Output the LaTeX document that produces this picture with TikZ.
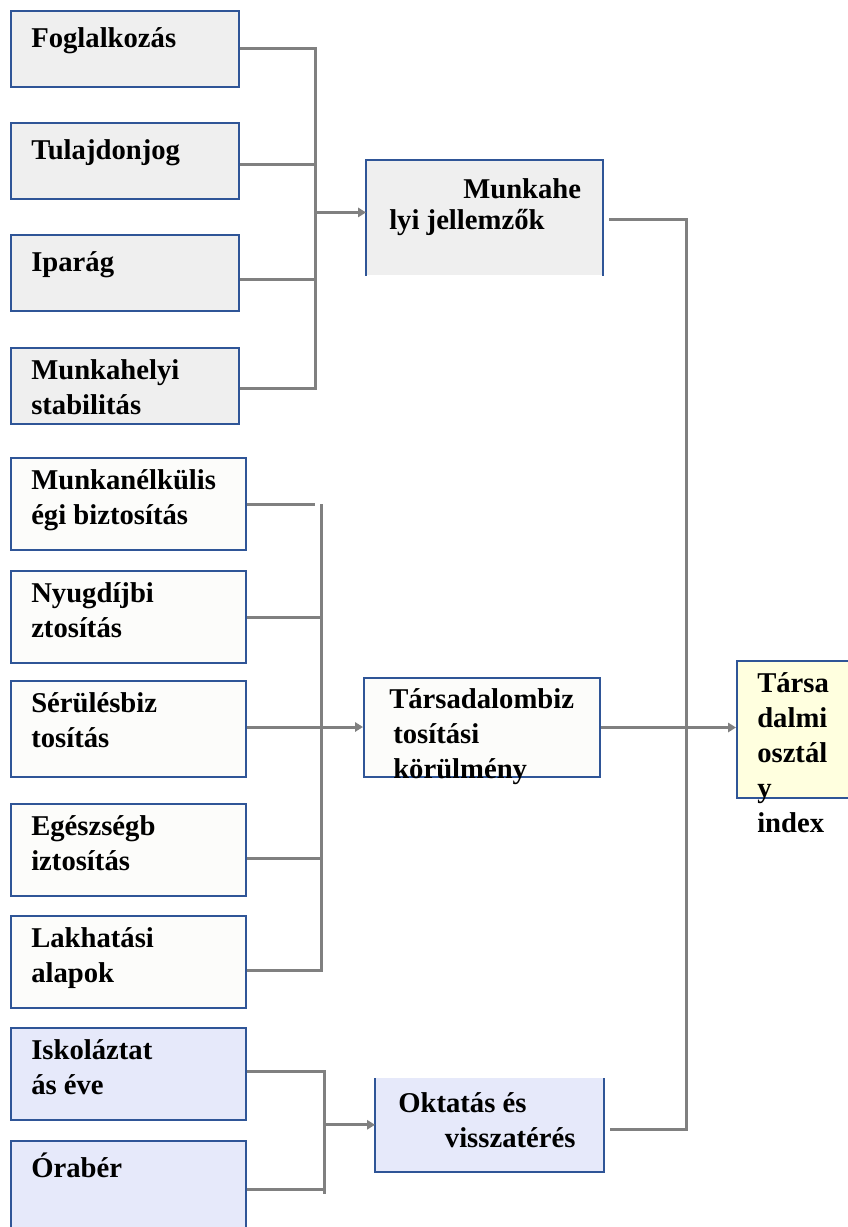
\documentclass[tikz,border=0pt]{standalone}
\usepackage{fontspec}
\setmainfont{Liberation Serif}
\usetikzlibrary{arrows.meta,calc,positioning}
\definecolor{figBorder}{HTML}{2F5597}
\definecolor{figLink}{HTML}{808080}
\definecolor{figGrey}{HTML}{EFEFEF}
\definecolor{figPaper}{HTML}{FCFCFA}
\definecolor{figLavender}{HTML}{E6E9FA}
\definecolor{figCream}{HTML}{FFFFDF}
\tikzset{
  figbox/.style={draw=figBorder, line width=1.5pt, anchor=north west, inner sep=0pt},
  figplain/.style={anchor=north west, inner sep=0pt},
  figedge/.style={draw=figBorder, line width=1.5pt},
  figtext/.style={anchor=north west, inner sep=0pt, align=left, text=black,
                  font=\fontsize{21.5pt}{26.25pt}\selectfont\bfseries,
                  execute at begin node=\strut},
  figlink/.style={draw=figLink, line width=2.25pt},
  figarrow/.style={figlink, -{Triangle[length=6pt, width=7pt]}}
}

\begin{document}
\begin{tikzpicture}[x=0.75pt, y=-0.75pt]
\useasboundingbox (0,0) rectangle (848,1227);

% workplace factors
\foreach \name/\top/\txt in {f1/10/Foglalkozás, f2/122/Tulajdonjog, f3/234/Iparág,
                             f4/347/{Munkahelyi\\stabilitás}} {
  \node[figbox, fill=figGrey, minimum width=171pt, minimum height=57pt] (\name) at (10,\top) {};
  \node[figtext] (\name-t) at ([shift={(21,12.5)}]\name.north west) {\txt};
}
% social insurance factors
\foreach \name/\top/\hgt/\txt in {s1/457/69/{Munkanélkülis\\égi biztosítás}, s2/570/69/{Nyugdíjbi\\ztosítás},
                                  s3/680/72/{Sérülésbiz\\tosítás}, s4/803/69/{Egészségb\\iztosítás},
                                  s5/915/69/{Lakhatási\\alapok}} {
  \node[figbox, fill=figPaper, minimum width=176.25pt, minimum height=\hgt pt] (\name) at (10,\top) {};
  \node[figtext] (\name-t) at ([shift={(21,12.5)}]\name.north west) {\txt};
}
% education factors
\foreach \name/\top/\hgt/\txt in {e1/1027/69/{Iskoláztat\\ás éve}, e2/1140/75/Órabér} {
  \node[figbox, fill=figLavender, minimum width=176.25pt, minimum height=\hgt pt] (\name) at (10,\top) {};
  \node[figtext] (\name-t) at ([shift={(21,12.5)}]\name.north west) {\txt};
}

% middle column
\node[figplain, fill=figGrey, minimum width=177pt, minimum height=86.25pt] (mj) at (366,160) {};
\draw[figedge] (mj.south west) -- (mj.north west) -- (mj.north east) -- (mj.south east);
\node[figtext, font=\fontsize{21.5pt}{23.25pt}\selectfont\bfseries] (mj-t)
  at ([shift={(23,18.3)}]mj.north west) {\hspace*{55.5pt}Munkahe\\lyi jellemzők};

\node[figbox, fill=figPaper, minimum width=177pt, minimum height=74.25pt] (tb) at (363,677) {};
\node[figtext] (tb-t) at ([shift={(26,11.5)}]tb.north west)
  {Társadalombiz\\\hspace*{3pt}tosítási\\\hspace*{3pt}körülmény};

\node[figplain, fill=figLavender, minimum width=171pt, minimum height=69.75pt] (ok) at (375,1078) {};
\draw[figedge] (ok.north west) -- (ok.south west) -- (ok.south east) -- (ok.north east);
\node[figtext] (ok-t) at ([shift={(23,14.5)}]ok.north west) {Oktatás és\\\hspace*{35pt}visszatérés};

% result
\node[figbox, fill=figCream, minimum width=87pt, minimum height=102.75pt] (tox) at (736,660) {};
\node[figtext] (tox-t) at ([shift={(21,12.5)}]tox.north west) {Társa\\dalmi\\osztál\\y\\index};

% connectors
\coordinate (bus1) at (315,0);
\coordinate (bus2) at (321,0);
\coordinate (bus3) at (324,0);
\coordinate (bus4) at (686,0);

\draw[figlink] (f1.east) -- (f1.east -| bus1) -- ([yshift=-1.5pt]f4.east -| bus1) -- ([yshift=-1.5pt]f4.east);
\draw[figlink] ([yshift=-3pt]f2.east) -- ([yshift=-3pt]f2.east -| bus1);
\draw[figlink] ([yshift=-4.5pt]f3.east) -- ([yshift=-4.5pt]f3.east -| bus1);
\draw[figarrow] ([yshift=4pt]mj.west -| bus1) -- ([yshift=4pt]mj.west);

\draw[figlink] (s1.east) -- ([xshift=-4.5pt]s1.east -| bus2);
\draw[figlink] (s1.east -| bus2) -- ([yshift=-6pt]s5.east -| bus2) -- ([yshift=-6pt]s5.east);
\draw[figlink] (s2.east) -- (s2.east -| bus2);
\draw[figlink] ([yshift=-6.5pt]s4.east) -- ([yshift=-6.5pt]s4.east -| bus2);
\draw[figarrow] ([yshift=1.5pt]s3.east) -- ([yshift=1.5pt]s3.east -| tb.west);

\draw[figlink] ([yshift=2pt]e1.east) -- ([yshift=2pt]e1.east -| bus3) -- ([yshift=-2pt]e2.east -| bus3);
\draw[figlink] ([yshift=1.5pt]e2.east) -- ([yshift=1.5pt]e2.east -| bus3);
\draw[figarrow] (ok.west -| bus3) -- (ok.west);

\draw[figlink] ([xshift=5pt, yshift=-1pt]mj.east) -- ([yshift=-1pt]mj.east -| bus4)
  -- ([yshift=-3.5pt]ok.east -| bus4) -- ([xshift=5pt, yshift=-3.5pt]ok.east);
\draw[figarrow] (tb.east) -- (tb.east -| tox.west);

\end{tikzpicture}
\end{document}
